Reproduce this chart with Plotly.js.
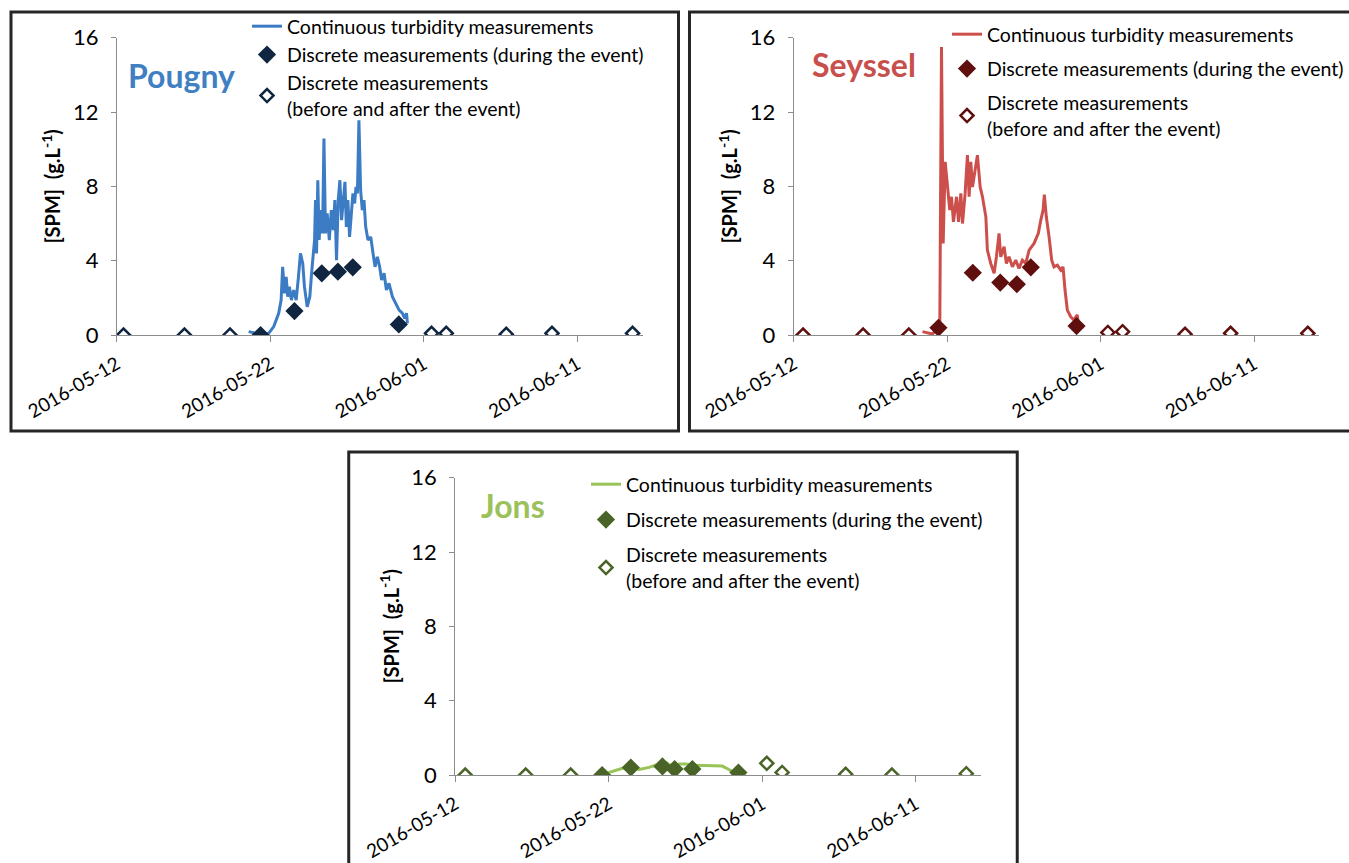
<!DOCTYPE html>
<html>
<head>
<meta charset="utf-8">
<script src="https://cdn.plot.ly/plotly-3.0.1.min.js"></script>
<style>
  html, body { margin: 0; padding: 0; background: #ffffff; }
  #chart { width: 1349px; height: 863px; }
</style>
</head>
<body>
<div id="chart"></div>
<script>
// ---------------- DATA ----------------
const stations = ['Pougny', 'Seyssel', 'Jons'];
const tickDates = ['2016-05-12', '2016-05-22', '2016-06-01', '2016-06-11'];
const yTicks = [0, 4, 8, 12, 16];
const seriesNames = [
  'Continuous turbidity measurements',
  'Discrete measurements (during the event)',
  'Discrete measurements<br>(before and after the event)'
];

// Pougny continuous turbidity
const pougnyLineTime = [
  '2016-05-20 14:00','2016-05-21 08:24','2016-05-21 21:20','2016-05-22 05:15','2016-05-22 13:00',
  '2016-05-22 16:48','2016-05-22 19:12','2016-05-22 22:05','2016-05-23 00:43','2016-05-23 03:07',
  '2016-05-23 05:46','2016-05-23 08:53','2016-05-23 12:29','2016-05-23 16:19','2016-05-23 19:26',
  '2016-05-23 23:02','2016-05-24 02:38','2016-05-24 05:17','2016-05-24 09:36','2016-05-24 13:41',
  '2016-05-24 17:17','2016-05-24 21:07','2016-05-24 22:34','2016-05-25 00:14','2016-05-25 02:10',
  '2016-05-25 04:19','2016-05-25 06:29','2016-05-25 09:36','2016-05-25 11:46','2016-05-25 14:10',
  '2016-05-25 16:48','2016-05-25 20:10','2016-05-25 23:17','2016-05-26 02:24','2016-05-26 04:48',
  '2016-05-26 07:26','2016-05-26 10:05','2016-05-26 12:43','2016-05-26 15:22','2016-05-26 18:00',
  '2016-05-26 20:38','2016-05-26 22:48','2016-05-27 01:12','2016-05-27 03:50','2016-05-27 06:29',
  '2016-05-27 09:07','2016-05-27 11:46','2016-05-27 13:55','2016-05-27 16:05','2016-05-27 18:29',
  '2016-05-27 21:07','2016-05-27 23:46','2016-05-28 02:24','2016-05-28 05:02','2016-05-28 08:38',
  '2016-05-28 12:58','2016-05-28 16:34','2016-05-28 19:41','2016-05-28 23:17','2016-05-29 02:53',
  '2016-05-29 06:00','2016-05-29 09:50','2016-05-29 13:26','2016-05-29 17:31','2016-05-29 22:48',
  '2016-05-30 04:05','2016-05-30 09:22','2016-05-30 14:24','2016-05-30 18:14','2016-05-30 20:53',
  '2016-05-30 22:19'
];
const pougnyLineSPM = [
  0.18,0.04,0.09,0.45,1.17,
  1.88,3.67,2.24,3.13,2.06,
  2.60,1.88,2.42,1.88,2.96,
  4.39,3.85,2.60,1.52,2.06,
  3.67,5.11,7.26,4.39,8.33,
  5.11,6.72,5.47,10.58,5.47,
  6.54,5.11,6.72,5.65,7.26,
  4.03,7.26,8.33,6.18,7.44,
  8.24,5.82,7.26,5.28,6.72,
  7.62,7.08,7.97,7.62,11.56,
  7.80,6.72,7.26,5.82,5.11,
  5.28,4.39,3.67,4.21,3.67,
  2.96,3.32,2.42,2.78,2.06,
  1.70,1.34,1.17,0.90,1.17,
  0.63
];
const pougnyDuringTime = ['2016-05-21 08:38','2016-05-23 13:41','2016-05-25 08:24','2016-05-26 09:36','2016-05-27 08:53','2016-05-30 08:53'];
const pougnyDuringSPM  = [0.00, 1.29, 3.32, 3.41, 3.64, 0.57];
const pougnyOtherTime  = ['2016-05-12 10:19','2016-05-16 09:36','2016-05-19 08:53','2016-06-01 12:00','2016-06-02 11:02','2016-06-06 08:53','2016-06-09 08:24','2016-06-14 14:24'];
const pougnyOtherSPM   = [0.00, 0.00, 0.00, 0.09, 0.09, 0.04, 0.09, 0.09];

// Seyssel continuous turbidity
const seysselLineTime = [
  '2016-05-20 09:22','2016-05-21 00:58','2016-05-21 08:53','2016-05-21 12:29','2016-05-21 15:07',
  '2016-05-21 17:46','2016-05-21 20:53','2016-05-22 00:29','2016-05-22 04:05','2016-05-22 06:43',
  '2016-05-22 09:50','2016-05-22 14:38','2016-05-22 17:46','2016-05-22 21:22','2016-05-23 00:00',
  '2016-05-23 04:05','2016-05-23 07:41','2016-05-23 10:19','2016-05-23 12:58','2016-05-23 15:36',
  '2016-05-23 19:12','2016-05-23 23:17','2016-05-24 03:36','2016-05-24 07:12','2016-05-24 12:29',
  '2016-05-24 14:53','2016-05-24 20:10','2016-05-25 01:26','2016-05-25 05:02','2016-05-25 09:07',
  '2016-05-25 11:46','2016-05-25 17:02','2016-05-25 20:38','2016-05-26 00:43','2016-05-26 06:00',
  '2016-05-26 11:17','2016-05-26 16:19','2016-05-26 21:36','2016-05-27 02:53','2016-05-27 08:10',
  '2016-05-27 15:50','2016-05-27 22:34','2016-05-28 02:24','2016-05-28 06:00','2016-05-28 07:55',
  '2016-05-28 11:02','2016-05-28 15:22','2016-05-28 19:26','2016-05-28 23:02','2016-05-29 04:19',
  '2016-05-29 09:36','2016-05-29 13:12','2016-05-29 16:19','2016-05-29 19:55','2016-05-30 01:12',
  '2016-05-30 06:14','2016-05-30 11:31','2016-05-30 12:58'
];
const seysselLineSPM = [
  0.18,0.05,0.36,0.63,15.50,
  4.93,9.32,7.97,6.72,7.44,
  6.09,7.44,6.09,7.62,6.00,
  7.62,9.68,7.44,9.32,7.97,
  8.69,9.68,7.97,7.44,6.36,
  4.57,3.85,3.32,4.21,5.47,
  4.21,4.75,3.85,4.21,3.67,
  4.03,3.58,4.03,3.85,4.57,
  4.93,5.47,6.18,6.72,7.56,
  6.36,5.28,4.03,3.67,3.76,
  3.49,3.67,2.42,1.34,0.98,
  0.81,1.08,0.63
];
const seysselDuringTime = ['2016-05-21 10:19','2016-05-23 16:05','2016-05-25 11:02','2016-05-26 12:58','2016-05-27 10:48','2016-05-30 10:19'];
const seysselDuringSPM  = [0.39, 3.35, 2.82, 2.73, 3.64, 0.48];
const seysselOtherTime  = ['2016-05-12 14:38','2016-05-16 12:29','2016-05-19 12:00','2016-06-01 11:17','2016-06-02 10:19','2016-06-06 12:00','2016-06-09 11:17','2016-06-14 12:00'];
const seysselOtherSPM   = [0.00, 0.00, 0.00, 0.14, 0.18, 0.04, 0.09, 0.09];

// Jons continuous turbidity
const jonsLineTime = [
  '2016-05-21 16:05','2016-05-22 21:36','2016-05-23 10:34','2016-05-23 23:31','2016-05-24 15:07',
  '2016-05-25 06:43','2016-05-25 18:14','2016-05-26 03:36','2016-05-26 13:55','2016-05-27 00:29',
  '2016-05-27 16:05','2016-05-28 07:41','2016-05-28 23:17','2016-05-29 09:36','2016-05-29 19:55',
  '2016-05-30 03:36'
];
const jonsLineSPM = [
  0.05,0.36,0.40,0.30,0.41,
  0.59,0.66,0.45,0.59,0.59,
  0.52,0.50,0.50,0.48,0.30,
  0.13
];
const jonsDuringTime = ['2016-05-21 13:41','2016-05-23 10:34','2016-05-25 12:00','2016-05-26 07:00','2016-05-27 10:48','2016-05-30 10:48'];
const jonsDuringSPM  = [0.00, 0.40, 0.46, 0.32, 0.32, 0.13];
const jonsOtherTime  = ['2016-05-12 15:36','2016-05-16 14:10','2016-05-19 12:29','2016-06-01 07:12','2016-06-02 07:12','2016-06-06 10:34','2016-06-09 10:48','2016-06-14 07:12'];
const jonsOtherSPM   = [0.00, 0.00, 0.00, 0.63, 0.14, 0.04, 0.00, 0.07];

// ---------------- STYLE ----------------
const FONT = 'Lato, "Open Sans", "DejaVu Sans", sans-serif';
const style = {
  Pougny:  { line: '#3B7CC4', mark: '#0F2540', title: '#3F7FC2' },
  Seyssel: { line: '#CC4F4C', mark: '#5E0F0E', title: '#C8504C' },
  Jons:    { line: '#98C356', mark: '#4A6427', title: '#9BC15A' }
};
const xRange = ['2016-05-12 00:00', '2016-06-15 06:00'];

const data = [
  { station: 'Pougny',  lt: pougnyLineTime,  lv: pougnyLineSPM,  dt: pougnyDuringTime,  dv: pougnyDuringSPM,  ot: pougnyOtherTime,  ov: pougnyOtherSPM },
  { station: 'Seyssel', lt: seysselLineTime, lv: seysselLineSPM, dt: seysselDuringTime, dv: seysselDuringSPM, ot: seysselOtherTime, ov: seysselOtherSPM },
  { station: 'Jons',    lt: jonsLineTime,    lv: jonsLineSPM,    dt: jonsDuringTime,    dv: jonsDuringSPM,    ot: jonsOtherTime,    ov: jonsOtherSPM }
];

const traces = [];
data.forEach((d, i) => {
  const sfx = i === 0 ? '' : String(i + 1);
  const st = style[d.station];
  const legendId = 'legend' + sfx;
  traces.push({
    type: 'scatter', mode: 'lines', x: d.lt, y: d.lv, name: seriesNames[0],
    xaxis: 'x' + sfx, yaxis: 'y' + sfx, legend: legendId, legendgroup: d.station + 'a',
    line: { color: st.line, width: 3 }
  });
  traces.push({
    type: 'scatter', mode: 'markers', x: d.dt, y: d.dv, name: seriesNames[1],
    xaxis: 'x' + sfx, yaxis: 'y' + sfx, legend: legendId, legendgroup: d.station + 'b',
    marker: { symbol: 'diamond', size: 14, color: st.mark, line: { color: st.mark, width: 0 } }
  });
  traces.push({
    type: 'scatter', mode: 'markers', x: d.ot, y: d.ov, name: seriesNames[2],
    xaxis: 'x' + sfx, yaxis: 'y' + sfx, legend: legendId, legendgroup: d.station + 'c',
    marker: { symbol: 'diamond', size: 10, color: '#ffffff', line: { color: st.mark, width: 2.5 } }
  });
});

function xAxis(domain, anchor) {
  return {
    type: 'date', domain: domain, anchor: anchor, range: xRange,
    tickvals: tickDates, ticktext: tickDates, tickangle: -30,
    tickfont: { family: FONT, size: 19, color: '#000' },
    showline: true, linecolor: '#8c8c8c', linewidth: 1,
    ticks: 'outside', ticklen: 6, tickcolor: '#8c8c8c',
    showgrid: false, zeroline: false, ticklabelstandoff: 4
  };
}
function yAxis(domain, anchor) {
  return {
    domain: domain, anchor: anchor, range: [0, 16],
    tickvals: yTicks, ticktext: yTicks.map(String),
    tickfont: { family: FONT, size: 22, color: '#000' },
    showline: true, linecolor: '#8c8c8c', linewidth: 1,
    ticks: 'outside', ticklen: 5, tickcolor: '#8c8c8c',
    showgrid: false, zeroline: false, ticklabelstandoff: 8,
    title: { text: '<b>[SPM]  (g.L<sup>-1</sup>)</b>', font: { family: FONT, size: 20, color: '#000' }, standoff: 6 }
  };
}

const W = 1349, H = 863;
const px = v => v / W;
const py = v => 1 - v / H;

function legendAt(xpx, ypx, gap) {
  return {
    x: px(xpx), y: py(ypx), xanchor: 'left', yanchor: 'top',
    bgcolor: 'rgba(0,0,0,0)', borderwidth: 0,
    font: { family: FONT, size: 19.5, color: '#000' },
    traceorder: 'grouped', tracegroupgap: gap, itemwidth: 30
  };
}

function frame(x0, y0, x1, y1) {
  return { type: 'rect', xref: 'paper', yref: 'paper', x0: px(x0), x1: px(x1), y0: py(y1), y1: py(y0),
           line: { color: '#262626', width: 3 }, fillcolor: 'rgba(0,0,0,0)', layer: 'above' };
}

const layout = {
  width: W, height: H,
  margin: { l: 0, r: 0, t: 0, b: 0 },
  paper_bgcolor: '#ffffff', plot_bgcolor: 'rgba(0,0,0,0)',
  showlegend: true,
  xaxis:  xAxis([px(117), px(643)], 'y'),
  yaxis:  yAxis([py(335), py(37.7)], 'x'),
  xaxis2: xAxis([px(794.3), px(1320.3)], 'y2'),
  yaxis2: yAxis([py(335), py(37.7)], 'x2'),
  xaxis3: xAxis([px(455.6), px(981.6)], 'y3'),
  yaxis3: yAxis([py(775), py(477.7)], 'x3'),
  legend:  legendAt(247, 7, 0),
  legend2: legendAt(948, 15, 6),
  legend3: legendAt(586, 465, 7),
  shapes: [
    frame(11, 12, 679, 431),
    frame(690, 12, 1360, 431),
    frame(349, 452, 1018, 880)
  ],
  annotations: [
    { text: '<b>' + stations[0] + '</b>', xref: 'paper', yref: 'paper', x: px(182), y: py(75), showarrow: false,
      xanchor: 'center', yanchor: 'middle', font: { family: FONT, size: 32, color: style.Pougny.title } },
    { text: '<b>' + stations[1] + '</b>', xref: 'paper', yref: 'paper', x: px(865), y: py(64), showarrow: false,
      xanchor: 'center', yanchor: 'middle', font: { family: FONT, size: 32, color: style.Seyssel.title } },
    { text: '<b>' + stations[2] + '</b>', xref: 'paper', yref: 'paper', x: px(513), y: py(505), showarrow: false,
      xanchor: 'center', yanchor: 'middle', font: { family: FONT, size: 32, color: style.Jons.title } }
  ]
};

Plotly.newPlot('chart', traces, layout, { displayModeBar: false, staticPlot: true });
</script>
</body>
</html>
